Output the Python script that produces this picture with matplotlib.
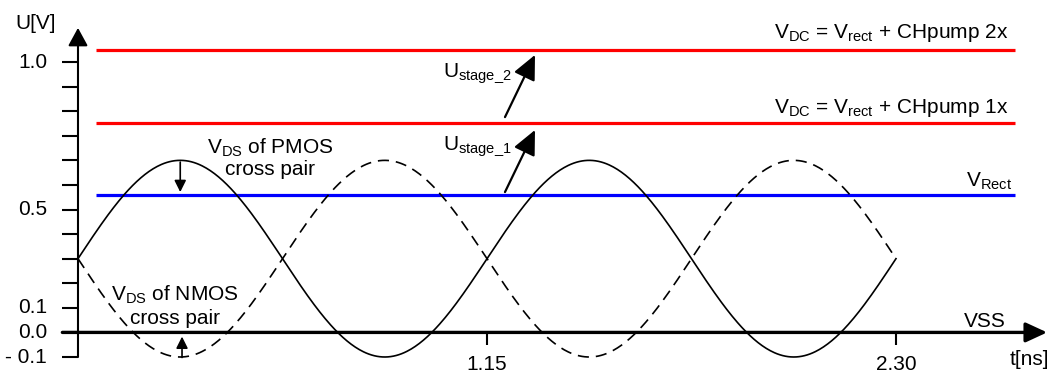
import numpy as np
import matplotlib
matplotlib.use("Agg")
import matplotlib.pyplot as plt

plt.rcParams["font.family"] = ["Liberation Sans", "DejaVu Sans"]
plt.rcParams["mathtext.fontset"] = "custom"
plt.rcParams["mathtext.rm"] = "Liberation Sans"
plt.rcParams["mathtext.it"] = "Liberation Sans:italic"
plt.rcParams["mathtext.bf"] = "Liberation Sans:bold"
plt.rcParams["lines.scale_dashes"] = False

# ---- data (time in ns, voltage in grid steps of the U axis) ----
period_ns = 1.15
t_end_ns = 2.30
swing_mid = 4.0          # centre of the differential swing
swing_amp = 4.0          # amplitude of each cross-pair node
level_names = ["V_Rect", "CHpump 1x", "CHpump 2x"]
level_values = [6.6, 9.5, 12.5]
level_colors = ["#0000ff", "#ff0000", "#ff0000"]
level_span = [0.05, 2.635]

y_tick_steps = list(range(0, 13))
y_label_steps = [0, 1, 2, 6, 12]
y_label_text = ["- 0.1", "0.0", "0.1", "0.5", "1.0"]
x_tick_values = [1.15, 2.30]
x_tick_text = ["1.15", "2.30"]

FS = 15

fig = plt.figure(figsize=(10.54, 3.74), dpi=100)
ax = fig.add_axes([0, 0, 1, 1])
ax.set_xlim(-0.2193, 2.7443)
ax.set_ylim(-0.6916, 14.524)
ax.axis("off")

# ---- axes drawn as arrows ----
ax.annotate("", xy=(0, 13.39), xytext=(0, 0),
            arrowprops=dict(arrowstyle="-|>,head_length=11,head_width=6",
                            mutation_scale=1, lw=1.5, color="k",
                            shrinkA=0, shrinkB=0))
ax.annotate("", xy=(2.725, 1), xytext=(-0.044, 1),
            arrowprops=dict(arrowstyle="-|>,head_length=13,head_width=6",
                            mutation_scale=1, lw=2.4, color="k",
                            shrinkA=0, shrinkB=0))

for s in y_tick_steps:
    ax.plot([-0.046, 0], [s, s], color="k", lw=1.5, solid_capstyle="butt")
for s, txt in zip(y_label_steps, y_label_text):
    ax.text(-0.087, s, txt, ha="right", va="center", fontsize=FS)
for xv, txt in zip(x_tick_values, x_tick_text):
    ax.plot([xv, xv], [1, 0.49], color="k", lw=1.5, solid_capstyle="butt")
    ax.text(xv, -0.29, txt, ha="center", va="center", fontsize=FS)

ax.text(-0.062, 13.55, "U[V]", ha="right", va="center", fontsize=FS)
ax.text(2.674, -0.1, "t[ns]", ha="center", va="center", fontsize=FS)
ax.text(2.609, 1.22, "VSS", ha="right", va="baseline", fontsize=FS)

# ---- DC levels ----
for name, val, col in zip(level_names, level_values, level_colors):
    ax.plot(level_span, [val, val], color=col, lw=2.3, solid_capstyle="butt")

ax.text(2.615, level_values[2] + 0.49,
        r"$\mathrm{V_{DC}}$ = $\mathrm{V_{rect}}$ + CHpump 2x",
        ha="right", va="baseline", fontsize=FS)
ax.text(2.615, level_values[1] + 0.43,
        r"$\mathrm{V_{DC}}$ = $\mathrm{V_{rect}}$ + CHpump 1x",
        ha="right", va="baseline", fontsize=FS)
ax.text(2.626, level_values[0] + 0.32, r"$\mathrm{V_{Rect}}$",
        ha="right", va="baseline", fontsize=FS)

# ---- cross-pair swings ----
t = np.linspace(0, t_end_ns, 600)
phase = 2 * np.pi * t / period_ns
ax.plot(t, swing_mid + swing_amp * np.sin(phase), color="k", lw=1.2)
ax.plot(t, swing_mid - swing_amp * np.sin(phase), color="k", lw=1.2,
        dashes=(8, 5))

# ---- annotations ----
small_head = dict(arrowstyle="-|>,head_length=7,head_width=3.5",
                  mutation_scale=1, lw=1.2, color="k", shrinkA=0, shrinkB=0)
t_peak = period_ns / 4
ax.annotate("", xy=(t_peak, level_values[0] + 0.11),
            xytext=(t_peak, swing_mid + swing_amp - 0.07), arrowprops=small_head)
ax.annotate("", xy=(t_peak + 0.005, 0.83),
            xytext=(t_peak + 0.005, swing_mid - swing_amp - 0.02),
            arrowprops=small_head)

ax.text(0.54, 8.5, r"$\mathrm{V_{DS}}$ of PMOS", ha="center", va="center", fontsize=FS)
ax.text(0.54, 7.62, "cross pair", ha="center", va="center", fontsize=FS)
ax.text(0.273, 2.52, r"$\mathrm{V_{DS}}$ of NMOS", ha="center", va="center", fontsize=FS)
ax.text(0.273, 1.55, "cross pair", ha="center", va="center", fontsize=FS)

big_head = dict(arrowstyle="-|>,head_length=15,head_width=7",
                mutation_scale=1, lw=1.6, color="k", shrinkA=0, shrinkB=0)
ax.annotate("", xy=(1.285, 12.29), xytext=(1.2006, 9.76), arrowprops=big_head)
ax.annotate("", xy=(1.285, 9.235), xytext=(1.2006, 6.71), arrowprops=big_head)
ax.text(1.22, 11.39, r"$\mathrm{U_{stage\_2}}$", ha="right", va="baseline", fontsize=FS)
ax.text(1.22, 8.42, r"$\mathrm{U_{stage\_1}}$", ha="right", va="baseline", fontsize=FS)

fig.savefig("out.png", dpi=100)
